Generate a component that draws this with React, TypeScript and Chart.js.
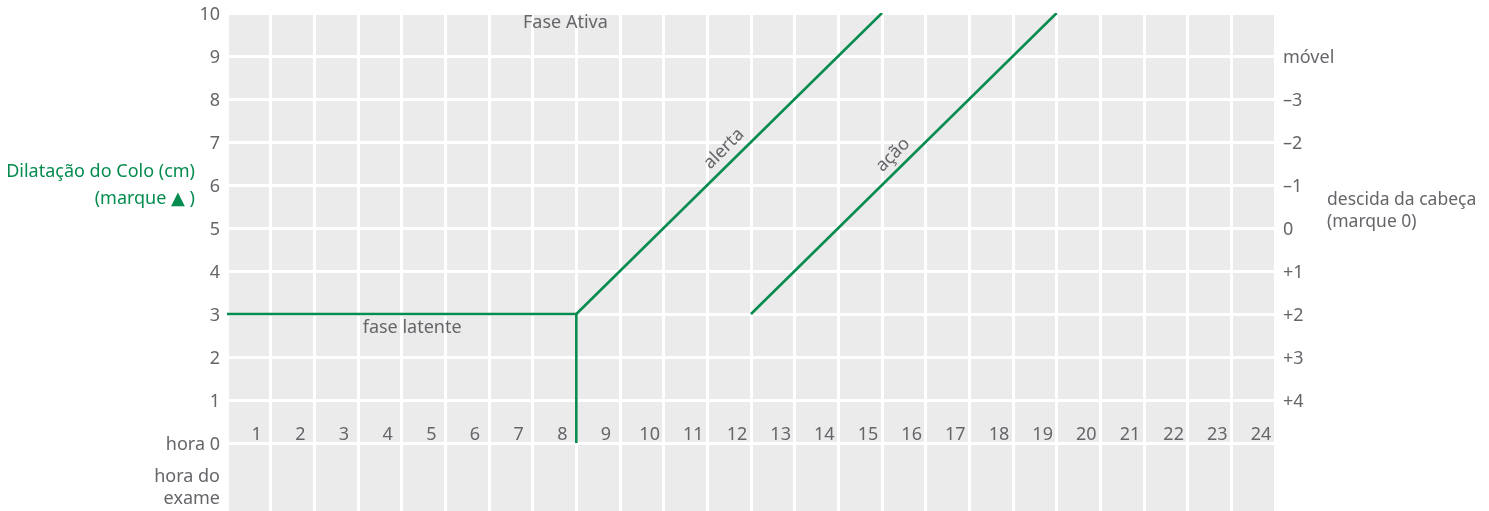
import React, { useEffect, useRef } from "react";
import { Chart, registerables } from "chart.js";

Chart.register(...registerables);

// ---- data ----
const hourLabels = ["1","2","3","4","5","6","7","8","9","10","11","12","13","14","15","16","17","18","19","20","21","22","23","24"];
const dilationTicks = [10, 9, 8, 7, 6, 5, 4, 3, 2, 1];
const hourZeroLabel = "hora 0";
const examLabel = ["hora do", "exame"];
const stationValues = [9, 8, 7, 6, 5, 4, 3, 2, 1];
const stationLabels = ["móvel", "–3", "–2", "–1", "0", "+1", "+2", "+3", "+4"];

const latentX = [0, 8];
const latentY = [3, 3];
const examX = [8, 8];
const examY = [3, 0];
const alertX = [8, 15];
const alertY = [3, 10];
const actionX = [12, 19];
const actionY = [3, 10];

const GREEN = "#078c50";
const GRAY = "#65666a";
const BG = "#ebebeb";
const FONT = '"Noto Sans", "DejaVu Sans", sans-serif';

const Y_MIN = -1.58;
const Y_MAX = 10;

function pts(xs: number[], ys: number[]) {
  return xs.map((x, i) => ({ x, y: ys[i] }));
}

const bgPlugin = {
  id: "bgFill",
  beforeDraw(chart: any) {
    const { ctx, chartArea } = chart;
    ctx.save();
    ctx.fillStyle = BG;
    ctx.fillRect(chartArea.left, chartArea.top, chartArea.right - chartArea.left, chartArea.bottom - chartArea.top);
    ctx.restore();
  },
};

const textPlugin = {
  id: "texts",
  afterDatasetsDraw(chart: any) {
    const { ctx, scales } = chart;
    const xs = scales.x;
    const ys = scales.y;
    const px = (v: number) => xs.getPixelForValue(v);
    const py = (v: number) => ys.getPixelForValue(v);
    ctx.save();
    ctx.textBaseline = "middle";

    // in-plot labels
    ctx.font = `18px ${FONT}`;
    ctx.fillStyle = GRAY;
    ctx.textAlign = "center";
    ctx.fillText("Fase Ativa", px(7.75), py(9.77));
    ctx.fillText("fase latente", px(4.24), py(2.67));

    const rot = (t: string, x: number, y: number) => {
      ctx.save();
      ctx.translate(px(x), py(y));
      ctx.rotate(-Math.PI / 4);
      ctx.fillText(t, 0, 0);
      ctx.restore();
    };
    rot("alerta", 11.38, 6.84);
    rot("ação", 15.25, 6.7);

    // left axis title
    ctx.fillStyle = GREEN;
    ctx.textAlign = "right";
    const ly = py(6);
    ctx.fillText("Dilatação do Colo (cm)", 195, ly - 13.5);
    ctx.fillText("(marque ▲ )", 195, ly + 13.5);

    // right axis title
    ctx.font = `17.5px ${FONT}`;
    ctx.fillStyle = GRAY;
    ctx.textAlign = "left";
    const ry = py(5.4);
    ctx.fillText("descida da cabeça", 1327, ry - 11);
    ctx.fillText("(marque 0)", 1327, ry + 11);
    ctx.restore();
  },
};

export default function App() {
  const ref = useRef<HTMLCanvasElement | null>(null);

  useEffect(() => {
    if (!ref.current) return;
    const lineDs = (label: string, xs: number[], ys: number[]) => ({
      label,
      data: pts(xs, ys),
      borderColor: GREEN,
      borderWidth: 2.6,
      pointRadius: 0,
      fill: false,
      tension: 0,
      borderCapStyle: "butt",
    });
    const chart = new Chart(ref.current, {
      type: "line",
      data: {
        datasets: [
          lineDs("latente", latentX, latentY),
          lineDs("exame", examX, examY),
          lineDs("alerta", alertX, alertY),
          lineDs("ação", actionX, actionY),
        ] as any,
      },
      options: {
        animation: false,
        responsive: true,
        maintainAspectRatio: false,
        layout: { padding: { top: 13, bottom: 0, left: 0, right: 0 } },
        plugins: { legend: { display: false }, tooltip: { enabled: false } },
        scales: {
          x: {
            type: "linear",
            position: { y: 0.43 } as any,
            min: 0,
            max: 24,
            border: { display: false },
            grid: { color: "#ffffff", lineWidth: 3, tickLength: 0, drawTicks: false },
            ticks: {
              stepSize: 1,
              padding: 0,
              labelOffset: -14,
              color: GRAY,
              font: { size: 18, family: FONT },
              autoSkip: false,
              maxRotation: 0,
              callback: (v: any) => (v >= 1 && v <= 24 ? hourLabels[v - 1] : ""),
            },
            afterFit: (s: any) => {
              s.paddingLeft = 0;
              s.paddingRight = 0;
            },
          },
          y: {
            type: "linear",
            position: "left",
            min: Y_MIN,
            max: Y_MAX,
            border: { display: false },
            grid: {
              color: (c: any) => (c.tick && c.tick.value < 0 ? "rgba(0,0,0,0)" : "#ffffff"),
              lineWidth: 3,
              tickLength: 0,
              drawTicks: false,
            },
            afterBuildTicks: (s: any) => {
              s.ticks = [-1, 0, ...dilationTicks.slice().reverse()].map((v) => ({ value: v }));
            },
            ticks: {
              padding: 7,
              labelOffset: 2,
              autoSkip: false,
              color: GRAY,
              font: { size: 18, family: FONT },
              callback: (v: any) => {
                if (v === -1) return examLabel;
                if (v === 0) return hourZeroLabel;
                return dilationTicks.includes(v) ? String(v) : "";
              },
            },
            afterFit: (s: any) => {
              s.width = 227;
              s.paddingTop = 0;
              s.paddingBottom = 0;
            },
          },
          y2: {
            type: "linear",
            position: "right",
            min: Y_MIN,
            max: Y_MAX,
            border: { display: false },
            grid: { display: false, drawOnChartArea: false, tickLength: 0 },
            afterBuildTicks: (s: any) => {
              s.ticks = stationValues.slice().reverse().map((v) => ({ value: v }));
            },
            ticks: {
              padding: 8,
              labelOffset: 2,
              autoSkip: false,
              crossAlign: "near",
              color: GRAY,
              font: { size: 18, family: FONT },
              callback: (v: any) => {
                const i = stationValues.indexOf(v);
                return i >= 0 ? stationLabels[i] : "";
              },
            },
            afterFit: (s: any) => {
              s.width = 214;
              s.paddingTop = 0;
              s.paddingBottom = 0;
            },
          },
        },
      } as any,
      plugins: [bgPlugin, textPlugin],
    });
    return () => chart.destroy();
  }, []);

  return (
    <div style={{ position: "fixed", left: 0, top: 0, width: 1489, height: 511, background: "#fff" }}>
      <canvas ref={ref} />
    </div>
  );
}
